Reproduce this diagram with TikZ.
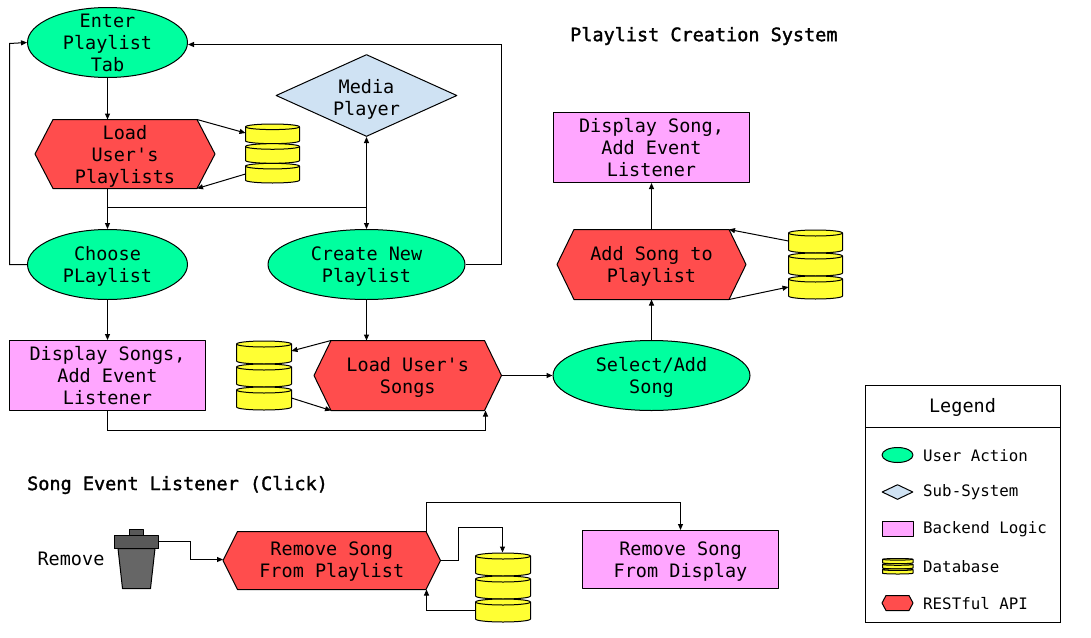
\documentclass[tikz,border=0pt]{standalone}
\usepackage{fontspec}
\setmonofont{DejaVu Sans Mono}
\newfontfamily\medmono[FakeBold=1.6]{DejaVu Sans Mono}
\usetikzlibrary{shapes.geometric,arrows.meta}
\definecolor{actc}{HTML}{00FF9F}
\definecolor{apic}{HTML}{FF4D4D}
\definecolor{logc}{HTML}{FFA6FF}
\definecolor{subc}{HTML}{CFE2F3}
\definecolor{dbc}{HTML}{FFFF33}
\definecolor{trashc}{HTML}{666666}
\definecolor{lidc}{HTML}{595959}
\tikzset{
  x=1pt,y=1pt,
  txt/.style={font=\ttfamily\fontsize{18.5}{22}\selectfont,align=center,inner sep=0pt,yshift=-2pt},
  legtxt/.style={font=\ttfamily\fontsize{15.8}{20}\selectfont,anchor=west,inner sep=0pt,yshift=-0.4pt},
  titletxt/.style={font=\medmono\fontsize{18.5}{22}\selectfont,anchor=west,inner sep=0pt,yshift=-1pt},
  shp/.style={draw=black,line width=1pt,line join=round},
  act/.style={shp,ellipse,fill=actc,inner sep=0pt},
  logicbox/.style={shp,rectangle,fill=logc,inner sep=0pt},
  sub/.style={shp,diamond,fill=subc,inner sep=0pt},
  link/.style={draw=black,line width=1pt,-{Triangle[length=6pt,width=5pt]}},
  plain/.style={draw=black,line width=1pt},
  hexextra/.style={},
}
% name, xleft, xright, ytop, ybottom, inset, text
\newcommand{\hexnode}[7]{%
  \pgfmathsetmacro{\hxa}{#2}\pgfmathsetmacro{\hxb}{#3}%
  \pgfmathsetmacro{\hya}{-#4}\pgfmathsetmacro{\hyb}{-#5}%
  \pgfmathsetmacro{\hym}{(\hya+\hyb)/2}%
  \pgfmathsetmacro{\hxm}{(\hxa+\hxb)/2}%
  \pgfmathsetmacro{\hxc}{\hxa+#6}\pgfmathsetmacro{\hxd}{\hxb-#6}%
  \draw[shp,fill=apic] (\hxa,\hym) -- (\hxc,\hya) -- (\hxd,\hya) -- (\hxb,\hym) -- (\hxd,\hyb) -- (\hxc,\hyb) -- cycle;%
  \coordinate (#1-w) at (\hxa,\hym);\coordinate (#1-e) at (\hxb,\hym);%
  \coordinate (#1-nw) at (\hxc,\hya);\coordinate (#1-ne) at (\hxd,\hya);%
  \coordinate (#1-sw) at (\hxc,\hyb);\coordinate (#1-se) at (\hxd,\hyb);%
  \node[txt,hexextra] (#1) at (\hxm,\hym) {#7};%
}
% name, xleft, xright, ytop, ybottom, ry
\newcommand{\dbstack}[6]{%
  \pgfmathsetmacro{\dxa}{#2}\pgfmathsetmacro{\dxb}{#3}%
  \pgfmathsetmacro{\drx}{(#3-#2)/2}%
  \pgfmathsetmacro{\dh}{(#5-#4)/3}%
  \pgfmathsetmacro{\dry}{#6}%
  \foreach \k in {0,1,2}{%
    \pgfmathsetmacro{\dt}{-#4-\k*\dh-\dry}%
    \pgfmathsetmacro{\db}{-#4-(\k+1)*\dh+\dry}%
    \draw[shp,fill=dbc] (\dxa,\dt) -- (\dxa,\db) arc[start angle=180,end angle=360,x radius=\drx,y radius=\dry] -- (\dxb,\dt) arc[start angle=0,end angle=180,x radius=\drx,y radius=\dry] -- cycle;%
    \draw[shp] (\dxa,\dt) arc[start angle=180,end angle=360,x radius=\drx,y radius=\dry];%
  }%
  \coordinate (#1) at ({(#2+#3)/2},{-(#4+#5)/2});%
}
\begin{document}
\begin{tikzpicture}
\useasboundingbox (0,0) rectangle (1091,-637);
\fill[white] (0,0) rectangle (1091,-637);

% titles
\node[titletxt] (title) at (570,-35) {Playlist Creation System};
\node[titletxt] (title2) at (27,-484) {Song Event Listener (Click)};

\coordinate (junc) at (107.5,-207.5);
\coordinate (juncb) at (366.5,-207.5);

% user actions
\node[act,minimum width=160,minimum height=70,label={[txt,yshift=2pt]center:Enter\\Playlist\\Tab}] (enter) at (107.5,-42.5) {};
\node[act,minimum width=160,minimum height=70,label={[txt]center:Choose\\PLaylist}] (choose) at (107.5,-264.5) {};
\node[act,minimum width=197,minimum height=70,label={[txt]center:Create New\\Playlist}] (create) at (366.5,-264.5) {};
\node[act,minimum width=197,minimum height=70,label={[txt]center:Select/Add\\Song}] (select) at (651.5,-375.5) {};

% sub-system
\node[sub,minimum width=181,minimum height=82,label={[txt,yshift=-2pt]center:Media\\Player}] (media) at (366.5,-95.5) {};

% backend logic
\node[logicbox,minimum width=196,minimum height=70,label={[txt,yshift=2pt]center:Display Songs,\\Add Event\\Listener}] (dsongs) at (107.5,-375.5) {};
\node[logicbox,minimum width=196,minimum height=70,label={[txt,yshift=2pt]center:Display Song,\\Add Event\\Listener}] (dsong) at (651.5,-147.5) {};
\node[logicbox,minimum width=196,minimum height=58,label={[txt]center:Remove Song\\From Display}] (rdisp) at (680.5,-559.5) {};

% RESTful API
\hexnode{loadp}{35}{215}{119.5}{188.5}{18}{Load\\User's\\Playlists}
\hexnode{loads}{314}{501.5}{340.5}{410.5}{17}{Load User's\\Songs}
\hexnode{adds}{557}{746}{229.5}{299.5}{17}{Add Song to\\Playlist}
\tikzset{hexextra/.style={yshift=1pt}}
\hexnode{rems}{223}{440.5}{531.5}{589.5}{14.5}{Remove Song\\From Playlist}
\tikzset{hexextra/.style={}}

% databases
\dbstack{dba}{245.5}{299.5}{124}{183}{2.8}
\dbstack{dbb}{236.5}{291.5}{341}{410}{3}
\dbstack{dbc}{788.5}{842.5}{230}{299}{3}
\dbstack{dbd}{475.5}{530.5}{553}{622}{3}
\coordinate (dba-in) at (245.5,-133);
\coordinate (dba-out) at (245.5,-174);
\coordinate (dbb-in) at (291.5,-351);
\coordinate (dbb-out) at (291.5,-398);
\coordinate (dbc-in) at (788.5,-287);
\coordinate (dbc-out) at (788.5,-241);
\coordinate (dbd-in) at (502.5,-552.5);
\coordinate (dbd-out) at (475.5,-610.5);

% trash can
\draw[shp,fill=trashc] (118,-548.5) -- (155,-548.5) -- (150.5,-588.5) -- (122.5,-588.5) -- cycle;
\node[shp,rectangle,fill=lidc,inner sep=0pt,minimum width=14.5,minimum height=5.5] (handle) at (136.5,-532.5) {};
\node[shp,rectangle,fill=lidc,inner sep=0pt,minimum width=44.5,minimum height=13] (lid) at (136.5,-542) {};
\node[font=\ttfamily\fontsize{18.5}{22}\selectfont,inner sep=0pt] (remlabel) at (71,-559) {Remove};

% connectors
\draw[link] (enter.south) -- (loadp-nw -| enter.south);
\draw[link] (loadp-ne) -- (dba-in);
\draw[link] (dba-out) -- (loadp-se);
\draw[link] (loadp-sw -| enter.south) -- (choose.north);
\draw[plain] (junc) -- (juncb);
\draw[link] (juncb) -- (media.south);
\draw[link] (juncb) -- (create.north);
\draw[link] (choose.west) -- (9.5,-264.5) -- (9.5,-43.5) -- (enter.west);
\draw[link] (create.east) -- (501.5,-264.5) -- (501.5,-44.5) -- (enter.east |- 0,-44.5);
\draw[link] (choose.south) -- (dsongs.north);
\draw[link] (create.south) -- (create.south |- loads-nw);
\draw[link] (loads-nw) -- (dbb-in);
\draw[link] (dbb-out) -- (loads-sw);
\draw[link] (dsongs.south) -- (107.5,-430.5) -- (485.5,-430.5) -- (485.5,-410.5);
\draw[link] (loads-e) -- (select.west);
\draw[link] (select.north) -- (select.north |- adds-se);
\draw[link] (select.north |- adds-ne) -- (dsong.south);
\draw[link] (dbc-out) -- (adds-ne);
\draw[link] (adds-se) -- (dbc-in);
\draw[link] (lid.east |- 0,-541.5) -- (190.5,-541.5) -- (190.5,-559.5) -- (rems-w |- 0,-559.5);
\draw[link] (rems-e) -- (458.5,-560.5) -- (458.5,-527.5) -- (502.5,-527.5) -- (dbd-in);
\draw[link] (426.5,-531.5) -- (426.5,-502.5) -- (680.5,-502.5) -- (rdisp.north);
\draw[link] (dbd-out) -- (426.5,-610.5) -- (426.5,-589.5);

% legend
\node[draw=black,line width=1pt,rectangle,inner sep=0pt,minimum width=195,minimum height=237] (legbox) at (962.5,-503.5) {};
\node[draw=black,line width=1pt,rectangle,inner sep=0pt,minimum width=195,minimum height=42] (leghead) at (962.5,-406) {};
\node[font=\ttfamily\fontsize{18.5}{22}\selectfont,inner sep=0pt] (legtitle) at (962.5,-407) {Legend};
\node[act,minimum width=31,minimum height=15] (legact) at (897.5,-455) {};
\node[legtxt] (legacttxt) at (923,-455) {User Action};
\node[sub,minimum width=31,minimum height=15] (legsub) at (897.5,-492) {};
\node[legtxt] (legsubtxt) at (923,-492) {Sub-System};
\node[logicbox,minimum width=31,minimum height=15] (leglog) at (897.5,-529) {};
\node[legtxt] (leglogtxt) at (923,-529) {Backend Logic};
\dbstack{legdb}{882.5}{913}{558.5}{574}{0.8}
\node[legtxt] (legdbtxt) at (923,-566) {Database};
\hexnode{legapi}{882}{913}{595.5}{610.5}{4}{}
\node[legtxt] (legapitxt) at (923,-603) {RESTful API};
\end{tikzpicture}
\end{document}
